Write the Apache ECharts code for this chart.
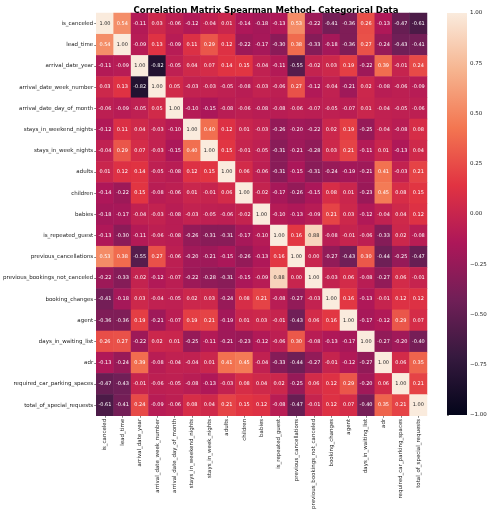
<!DOCTYPE html>
<html>
<head>
<meta charset="utf-8">
<script src="https://cdn.jsdelivr.net/npm/echarts@6/dist/echarts.min.js"></script>
<style>
  html, body { margin: 0; padding: 0; background: #fff; }
  #chart { width: 491px; height: 512px; }
</style>
</head>
<body>
<div id="chart"></div>
<script>
var labels = ['is_canceled', 'lead_time', 'arrival_date_year', 'arrival_date_week_number',
  'arrival_date_day_of_month', 'stays_in_weekend_nights', 'stays_in_week_nights', 'adults',
  'children', 'babies', 'is_repeated_guest', 'previous_cancellations',
  'previous_bookings_not_canceled', 'booking_changes', 'agent', 'days_in_waiting_list',
  'adr', 'required_car_parking_spaces', 'total_of_special_requests'];

// spearman correlations, one row per variable
var corrRows = [
  [1.00, 0.54, -0.11, 0.03, -0.06, -0.12, -0.04, 0.01, -0.14, -0.18, -0.13, 0.53, -0.22, -0.41, -0.36, 0.26, -0.13, -0.47, -0.61],
  [0.54, 1.00, -0.09, 0.13, -0.09, 0.11, 0.29, 0.12, -0.22, -0.17, -0.30, 0.38, -0.33, -0.18, -0.36, 0.27, -0.24, -0.43, -0.41],
  [-0.11, -0.09, 1.00, -0.82, -0.05, 0.04, 0.07, 0.14, 0.15, -0.04, -0.11, -0.55, -0.02, 0.03, 0.19, -0.22, 0.39, -0.01, 0.24],
  [0.03, 0.13, -0.82, 1.00, 0.05, -0.03, -0.03, -0.05, -0.08, -0.03, -0.06, 0.27, -0.12, -0.04, -0.21, 0.02, -0.08, -0.06, -0.09],
  [-0.06, -0.09, -0.05, 0.05, 1.00, -0.10, -0.15, -0.08, -0.06, -0.08, -0.08, -0.06, -0.07, -0.05, -0.07, 0.01, -0.04, -0.05, -0.06],
  [-0.12, 0.11, 0.04, -0.03, -0.10, 1.00, 0.40, 0.12, 0.01, -0.03, -0.26, -0.20, -0.22, 0.02, 0.19, -0.25, -0.04, -0.08, 0.08],
  [-0.04, 0.29, 0.07, -0.03, -0.15, 0.40, 1.00, 0.15, -0.01, -0.05, -0.31, -0.21, -0.28, 0.03, 0.21, -0.11, 0.01, -0.13, 0.04],
  [0.01, 0.12, 0.14, -0.05, -0.08, 0.12, 0.15, 1.00, 0.06, -0.06, -0.31, -0.15, -0.31, -0.24, -0.19, -0.21, 0.41, -0.03, 0.21],
  [-0.14, -0.22, 0.15, -0.08, -0.06, 0.01, -0.01, 0.06, 1.00, -0.02, -0.17, -0.26, -0.15, 0.08, 0.01, -0.23, 0.45, 0.08, 0.15],
  [-0.18, -0.17, -0.04, -0.03, -0.08, -0.03, -0.05, -0.06, -0.02, 1.00, -0.10, -0.13, -0.09, 0.21, 0.03, -0.12, -0.04, 0.04, 0.12],
  [-0.13, -0.30, -0.11, -0.06, -0.08, -0.26, -0.31, -0.31, -0.17, -0.10, 1.00, 0.16, 0.88, -0.08, -0.01, -0.06, -0.33, 0.02, -0.08],
  [0.53, 0.38, -0.55, 0.27, -0.06, -0.20, -0.21, -0.15, -0.26, -0.13, 0.16, 1.00, 0.00, -0.27, -0.43, 0.30, -0.44, -0.25, -0.47],
  [-0.22, -0.33, -0.02, -0.12, -0.07, -0.22, -0.28, -0.31, -0.15, -0.09, 0.88, 0.00, 1.00, -0.03, 0.06, -0.08, -0.27, 0.06, -0.01],
  [-0.41, -0.18, 0.03, -0.04, -0.05, 0.02, 0.03, -0.24, 0.08, 0.21, -0.08, -0.27, -0.03, 1.00, 0.16, -0.13, -0.01, 0.12, 0.12],
  [-0.36, -0.36, 0.19, -0.21, -0.07, 0.19, 0.21, -0.19, 0.01, 0.03, -0.01, -0.43, 0.06, 0.16, 1.00, -0.17, -0.12, 0.29, 0.07],
  [0.26, 0.27, -0.22, 0.02, 0.01, -0.25, -0.11, -0.21, -0.23, -0.12, -0.06, 0.30, -0.08, -0.13, -0.17, 1.00, -0.27, -0.20, -0.40],
  [-0.13, -0.24, 0.39, -0.08, -0.04, -0.04, 0.01, 0.41, 0.45, -0.04, -0.33, -0.44, -0.27, -0.01, -0.12, -0.27, 1.00, 0.06, 0.35],
  [-0.47, -0.43, -0.01, -0.06, -0.05, -0.08, -0.13, -0.03, 0.08, 0.04, 0.02, -0.25, 0.06, 0.12, 0.29, -0.20, 0.06, 1.00, 0.21],
  [-0.61, -0.41, 0.24, -0.09, -0.06, 0.08, 0.04, 0.21, 0.15, 0.12, -0.08, -0.47, -0.01, 0.12, 0.07, -0.40, 0.35, 0.21, 1.00]
];

var vmin = -1, vmax = 1;

// seaborn "rocket"
var rocket = ['#03051a', '#35193e', '#701f57', '#ad1759', '#e13342', '#f37651', '#f6b48f', '#faebdd'];

var cells = [];
for (var i = 0; i < corrRows.length; i++) {
  for (var j = 0; j < corrRows[i].length; j++) {
    var v = corrRows[i][j];
    cells.push({
      value: [j, i, v],
      label: { color: v > 0.6 ? '#262626' : '#ffffff' }
    });
  }
}

var FONT = 'DejaVu Sans';
var chart = echarts.init(document.getElementById('chart'), null, { renderer: 'canvas' });

var option = {
  animation: false,
  backgroundColor: '#fff',
  title: {
    text: 'Correlation Matrix Spearman Method- Categorical Data',
    left: 261,
    top: 1,
    textAlign: 'center',
    textStyle: { fontFamily: FONT, fontSize: 8.5, fontWeight: 'bold', color: '#000' }
  },
  grid: [
    { left: 95, top: 13, width: 332, height: 404 },
    { left: 447, top: 13, width: 20, height: 402 }
  ],
  xAxis: [
    {
      type: 'category', gridIndex: 0, data: labels,
      axisLine: { show: false },
      axisTick: { show: true, alignWithLabel: true, length: 2, lineStyle: { color: '#333', width: 0.6 } },
      axisLabel: { rotate: 90, interval: 0, fontFamily: FONT, fontSize: 5.5, color: '#222', margin: 3 },
      splitLine: { show: false }
    },
    { type: 'value', gridIndex: 1, show: false, min: 0, max: 1 }
  ],
  yAxis: [
    {
      type: 'category', gridIndex: 0, data: labels, inverse: true,
      axisLine: { show: false },
      axisTick: { show: true, alignWithLabel: true, length: 2, lineStyle: { color: '#333', width: 0.6 } },
      axisLabel: { interval: 0, fontFamily: FONT, fontSize: 5.5, color: '#222', margin: 3 },
      splitLine: { show: false }
    },
    {
      type: 'value', gridIndex: 1, position: 'right', min: vmin, max: vmax, interval: 0.25,
      axisLine: { show: false },
      axisTick: { show: true, length: 2, lineStyle: { color: '#333', width: 0.6 } },
      splitLine: { show: false },
      axisLabel: {
        fontFamily: FONT, fontSize: 5.5, color: '#222', margin: 3,
        formatter: function (v) { return (v < 0 ? '\u2212' : '') + Math.abs(v).toFixed(2); }
      }
    }
  ],
  visualMap: {
    type: 'continuous',
    show: false,
    min: vmin, max: vmax,
    seriesIndex: 0,
    inRange: { color: rocket }
  },
  series: [
    {
      type: 'heatmap',
      xAxisIndex: 0, yAxisIndex: 0,
      data: cells,
      itemStyle: { borderWidth: 0 },
      label: {
        show: true, fontFamily: FONT, fontSize: 5,
        formatter: function (p) { return p.value[2].toFixed(2); }
      },
      emphasis: { disabled: true }
    },
    {
      // colour bar, drawn on its own value axis
      type: 'custom', xAxisIndex: 1, yAxisIndex: 1, silent: true,
      data: [[0, vmin, 1, vmax]],
      renderItem: function (params, api) {
        var p0 = api.coord([api.value(0), api.value(3)]);
        var p1 = api.coord([api.value(2), api.value(1)]);
        var stops = rocket.map(function (c, k) {
          return { offset: 1 - k / (rocket.length - 1), color: c };
        }).reverse();
        return {
          type: 'rect',
          shape: { x: p0[0], y: p0[1], width: p1[0] - p0[0], height: p1[1] - p0[1] },
          style: { fill: new echarts.graphic.LinearGradient(0, 0, 0, 1, stops) }
        };
      }
    }
  ]
};
chart.setOption(option);
</script>
</body>
</html>
